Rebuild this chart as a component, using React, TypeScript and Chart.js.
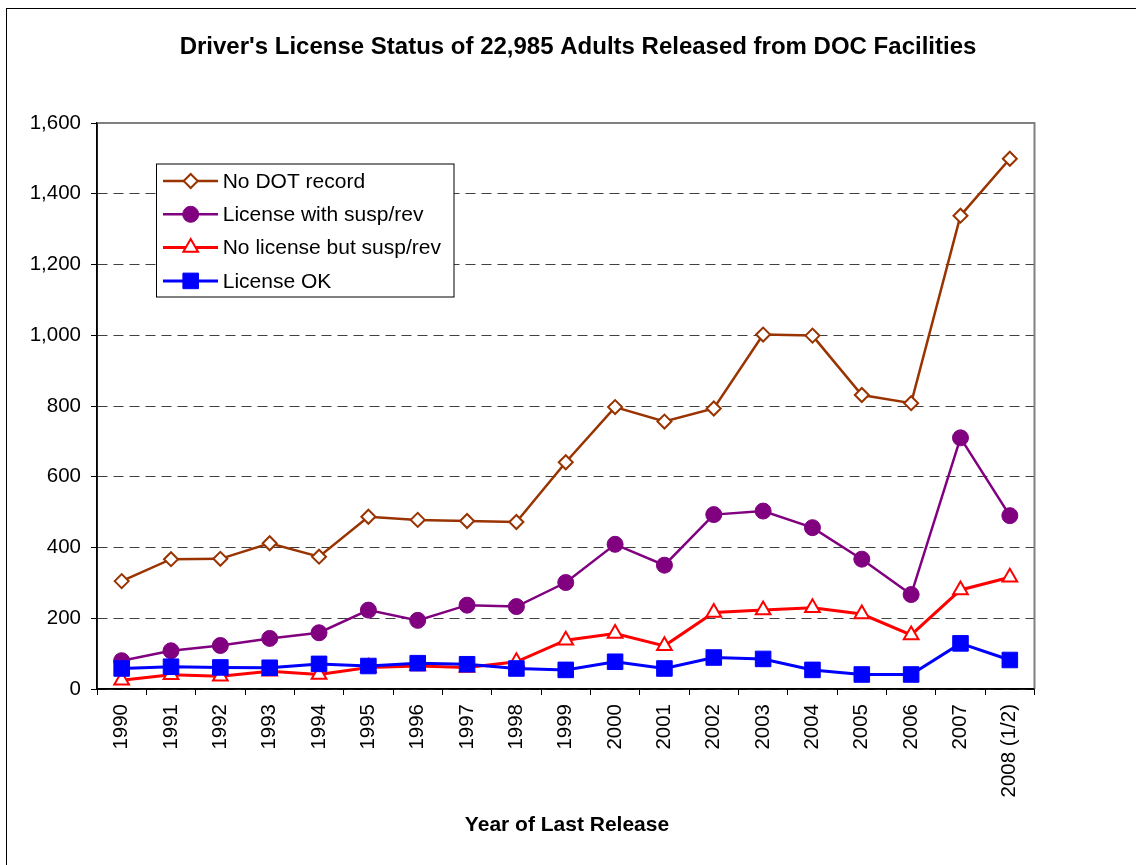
import React, { useEffect, useRef } from "react";
import { Chart, registerables } from "chart.js";

Chart.register(...registerables);

const years = [
  "1990", "1991", "1992", "1993", "1994", "1995", "1996", "1997", "1998", "1999",
  "2000", "2001", "2002", "2003", "2004", "2005", "2006", "2007", "2008 (1/2)",
];
const noDotRecord = [305, 367, 368, 412, 374, 487, 478, 475, 472, 641, 797, 756, 793, 1002, 999, 831, 808, 1338, 1499];
const licenseSuspRev = [80, 108, 123, 143, 159, 223, 194, 237, 233, 301, 409, 350, 493, 503, 456, 367, 267, 710, 490];
const noLicenseSuspRev = [25, 40, 36, 50, 41, 61, 65, 61, 77, 138, 157, 122, 216, 223, 230, 212, 153, 280, 316];
const licenseOK = [58, 63, 61, 60, 71, 65, 73, 70, 58, 54, 77, 58, 89, 85, 54, 41, 41, 129, 82];
const seriesNames = ["No DOT record", "License with susp/rev", "No license but susp/rev", "License OK"];

const TITLE = "Driver's License Status of 22,985 Adults Released from DOC Facilities";
const X_TITLE = "Year of Last Release";
const FONT = '"Liberation Sans", Arial, Helvetica, sans-serif';

const W = 1140;
const H = 870;
const AREA = { left: 90, right: 1027.5, top: 114, bottom: 680 };

function drawMarker(ctx: CanvasRenderingContext2D, style: string, x: number, y: number, r: number, fill: string, stroke: string, lw: number) {
  ctx.save();
  ctx.beginPath();
  if (style === "rectRot") {
    ctx.moveTo(x - r, y);
    ctx.lineTo(x, y - r);
    ctx.lineTo(x + r, y);
    ctx.lineTo(x, y + r);
    ctx.closePath();
  } else if (style === "circle") {
    ctx.arc(x, y, r, 0, Math.PI * 2);
  } else if (style === "triangle") {
    let a = 0;
    ctx.moveTo(x + Math.sin(a) * r, y - Math.cos(a) * r);
    a += (Math.PI * 2) / 3;
    ctx.lineTo(x + Math.sin(a) * r, y - Math.cos(a) * r);
    a += (Math.PI * 2) / 3;
    ctx.lineTo(x + Math.sin(a) * r, y - Math.cos(a) * r);
    ctx.closePath();
  } else {
    const s = Math.SQRT1_2 * r;
    ctx.rect(x - s, y - s, 2 * s, 2 * s);
  }
  ctx.fillStyle = fill;
  ctx.fill();
  ctx.lineWidth = lw;
  ctx.strokeStyle = stroke;
  ctx.stroke();
  ctx.restore();
}

const decorPlugin = {
  id: "decor",
  beforeDatasetsDraw(chart: any) {
    const { ctx, chartArea } = chart;
    ctx.save();
    ctx.setLineDash([]);
    ctx.strokeStyle = "#808080";
    ctx.lineWidth = 2;
    ctx.beginPath();
    ctx.moveTo(chartArea.left, chartArea.top);
    ctx.lineTo(chartArea.right, chartArea.top);
    ctx.lineTo(chartArea.right, chartArea.bottom);
    ctx.stroke();
    ctx.strokeStyle = "#000";
    ctx.lineWidth = 1.5;
    ctx.beginPath();
    ctx.moveTo(chartArea.left, chartArea.top);
    ctx.lineTo(chartArea.left, chartArea.bottom);
    ctx.lineTo(chartArea.right, chartArea.bottom);
    ctx.stroke();
    ctx.restore();
  },
  afterDraw(chart: any) {
    const { ctx } = chart;
    ctx.save();
    ctx.fillStyle = "#000";
    ctx.textAlign = "center";
    ctx.textBaseline = "middle";
    ctx.font = `bold 24px ${FONT}`;
    ctx.fillText(TITLE, 571, 38);
    ctx.font = `bold 21px ${FONT}`;
    ctx.fillText(X_TITLE, 560, 816);

    // legend box
    const bx = 149.5, by = 155, bw = 297.5, bh = 133;
    ctx.fillStyle = "#fff";
    ctx.fillRect(bx, by, bw, bh);
    ctx.strokeStyle = "#000";
    ctx.lineWidth = 1;
    ctx.strokeRect(bx, by, bw, bh);
    ctx.font = `21px ${FONT}`;
    ctx.textAlign = "left";
    chart.data.datasets.forEach((ds: any, i: number) => {
      const y = 172 + i * 33.3;
      ctx.strokeStyle = ds.borderColor;
      ctx.lineWidth = ds.borderWidth;
      ctx.beginPath();
      ctx.moveTo(156, y);
      ctx.lineTo(211, y);
      ctx.stroke();
      drawMarker(ctx, ds.pointStyle, 183.7, y, ds.pointRadius, ds.pointBackgroundColor, ds.pointBorderColor, ds.pointBorderWidth);
      ctx.fillStyle = "#000";
      ctx.fillText(ds.label, 215.7, y + 1);
    });
    ctx.restore();
  },
};

export default function App() {
  const canvasRef = useRef<HTMLCanvasElement | null>(null);

  useEffect(() => {
    const canvas = canvasRef.current;
    if (!canvas) return;
    const mk = (label: string, data: number[], color: string, style: string, r: number, fill: string, lw: number, pbw: number, order: number) => ({
      label,
      data,
      borderColor: color,
      borderWidth: lw,
      backgroundColor: fill,
      pointStyle: style,
      pointRadius: r,
      pointHoverRadius: r,
      pointBackgroundColor: fill,
      pointBorderColor: color,
      pointBorderWidth: pbw,
      tension: 0,
      fill: false,
      order,
    });
    const chart = new Chart(canvas, {
      type: "line",
      data: {
        labels: years,
        datasets: [
          mk(seriesNames[0], noDotRecord, "#993300", "rectRot", 7, "#ffffff", 2.5, 2, 4),
          mk(seriesNames[1], licenseSuspRev, "#800080", "circle", 8, "#800080", 2.5, 1, 3),
          mk(seriesNames[2], noLicenseSuspRev, "#ff0000", "triangle", 8.5, "#ffffff", 3, 2, 2),
          mk(seriesNames[3], licenseOK, "#0000ff", "rect", 11, "#0000ff", 3, 1, 1),
        ],
      },
      options: {
        responsive: false,
        animation: false,
        devicePixelRatio: 1,
        layout: {
          padding: { left: 0, top: AREA.top, right: W - AREA.right, bottom: 0 },
        },
        plugins: {
          legend: { display: false },
          title: { display: false },
          tooltip: { enabled: false },
        },
        scales: {
          x: {
            type: "category",
            offset: true,
            grid: {
              display: true,
              drawOnChartArea: false,
              drawTicks: true,
              tickLength: 6,
              offset: true,
              color: "#000",
              tickColor: "#000",
            },
            border: { display: true, color: "#000", width: 1.5 },
            ticks: {
              autoSkip: false,
              minRotation: 90,
              maxRotation: 90,
              padding: 9,
              color: "#000",
              font: { family: FONT, size: 20.5 },
            },
            afterFit: (scale: any) => {
              scale.height = H - AREA.bottom;
            },
          },
          y: {
            min: 0,
            max: 1600,
            ticks: {
              stepSize: 200,
              padding: 10,
              color: "#000",
              font: { family: FONT, size: 20.5 },
            },
            grid: {
              color: "#404040",
              lineWidth: 1,
              tickLength: 6,
              tickColor: "#000",
              tickBorderDash: [],
              z: -1,
            },
            border: { display: true, color: "#000", width: 1.5, dash: [10, 6] },
            afterFit: (scale: any) => {
              scale.width = AREA.left;
            },
          },
        },
      },
      plugins: [decorPlugin],
    } as any);
    return () => chart.destroy();
  }, []);

  return (
    <div
      style={{
        position: "fixed",
        left: 6,
        top: 8,
        width: W,
        height: H,
        border: "1px solid #000",
        background: "#fff",
      }}
    >
      <canvas ref={canvasRef} width={W} height={H} style={{ display: "block", width: W, height: H }} />
    </div>
  );
}
